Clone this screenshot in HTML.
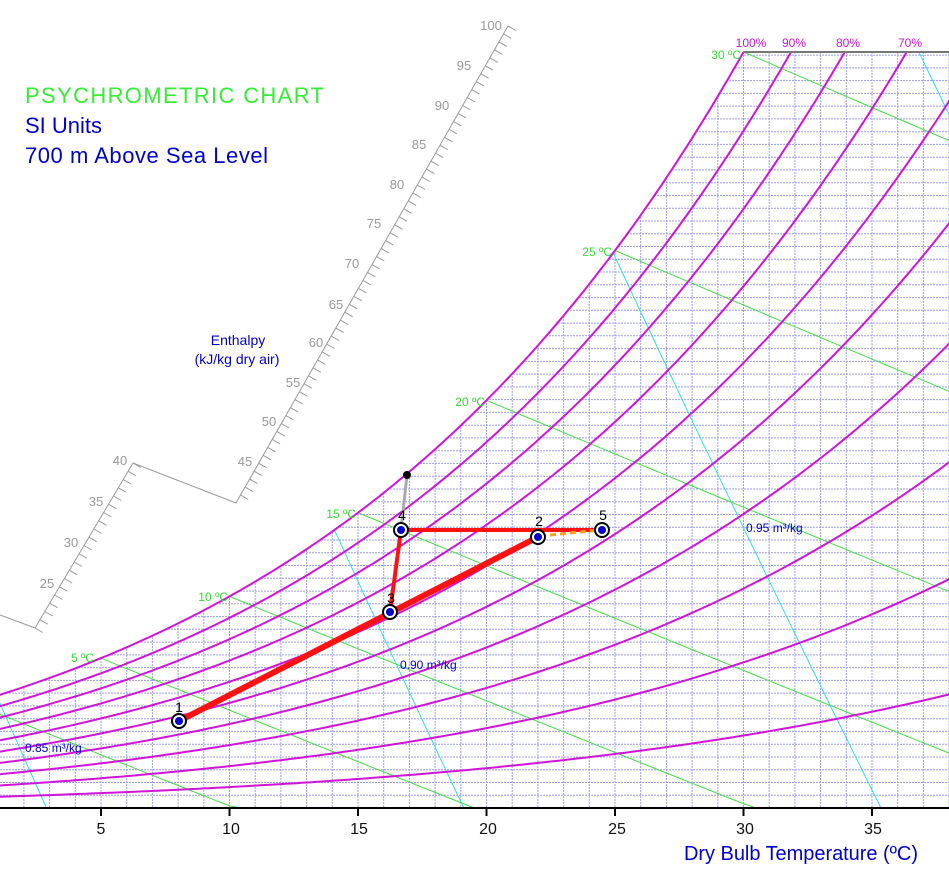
<!DOCTYPE html>
<html><head><meta charset="utf-8"><style>
html,body{margin:0;padding:0;background:#fff;}
svg{display:block;font-family:"Liberation Sans",Arial,sans-serif;}
</style></head><body>
<svg id="s" width="949" height="875" viewBox="0 0 949 875" xmlns="http://www.w3.org/2000/svg">
<defs>
<clipPath id="chart"><rect x="0" y="52" width="949" height="756"/></clipPath>
<clipPath id="sat"><path id="satclip" d=""/></clipPath>
</defs>
<g id="grid" clip-path="url(#sat)" stroke="#9c9cf0" stroke-width="1" stroke-dasharray="2,1"></g>
<g id="vol" clip-path="url(#sat)" stroke="#33dde8" stroke-width="1" fill="none"></g>
<g id="wb" clip-path="url(#chart)" stroke="#44dd44" stroke-width="1" fill="none"></g>
<g id="rh" clip-path="url(#chart)" stroke="#d014d8" stroke-width="2" fill="none"></g>
<line x1="743" y1="52" x2="949" y2="52" stroke="#777" stroke-width="2"/>
<g id="enth" stroke="#999" stroke-width="1" fill="none"></g>
<g id="axis" stroke="#000" stroke-width="2"></g>

<g font-size="12" fill="#d014d8" text-anchor="middle">
<text x="751" y="47">100%</text><text x="794" y="47">90%</text><text x="848" y="47">80%</text><text x="910" y="47">70%</text>
</g>
<g font-size="12" fill="#33dd33" text-anchor="end">
<text x="741" y="59">30 ºC</text><text x="612" y="256">25 ºC</text><text x="485" y="406">20 ºC</text>
<text x="356" y="518">15 ºC</text><text x="228" y="601">10 ºC</text><text x="94" y="662">5 ºC</text>
</g>
<g font-size="12" fill="#0000cc">
<text x="25" y="752">0.85 m³/kg</text><text x="400" y="669">0.90 m³/kg</text><text x="746" y="532">0.95 m³/kg</text>
</g>
<g font-size="13" fill="#999" text-anchor="middle" id="enthlabels">
<text x="47" y="588">25</text><text x="71" y="547">30</text><text x="96" y="506">35</text><text x="120" y="465">40</text>
<text x="245" y="466">45</text><text x="269" y="426">50</text><text x="293" y="387">55</text><text x="316" y="347">60</text>
<text x="336" y="309">65</text><text x="352" y="268">70</text><text x="374" y="228">75</text><text x="397" y="189">80</text>
<text x="419" y="149">85</text><text x="442" y="110">90</text><text x="464" y="70">95</text><text x="491" y="30">100</text>
</g>
<g font-size="14" fill="#0000cc" text-anchor="middle">
<text x="238" y="345">Enthalpy</text><text x="237" y="364">(kJ/kg dry air)</text>
</g>
<text x="25" y="103" font-size="22" fill="#33ee33" textLength="299">PSYCHROMETRIC CHART</text>
<text x="25" y="133" font-size="22" fill="#0000cc">SI Units</text>
<text x="25" y="163" font-size="22" fill="#0000cc" textLength="243">700 m Above Sea Level</text>

<g font-size="16" fill="#111" text-anchor="middle">
<text x="101" y="834">5</text><text x="231" y="834">10</text><text x="359" y="834">15</text><text x="488" y="834">20</text>
<text x="617" y="834">25</text><text x="745" y="834">30</text><text x="873" y="834">35</text>
</g>
<text x="918" y="860" font-size="20" fill="#0000cc" text-anchor="end" textLength="234">Dry Bulb Temperature (ºC)</text>

<!-- process -->
<line x1="401" y1="530" x2="407" y2="475" stroke="#aaa" stroke-width="3"/>
<circle cx="407" cy="475" r="4" fill="#000"/>
<line x1="179" y1="721" x2="538" y2="537" stroke="#ff1111" stroke-width="6"/>
<line x1="390" y1="612" x2="401" y2="530" stroke="#ff1111" stroke-width="4"/>
<line x1="401" y1="530" x2="600" y2="530" stroke="#ff1111" stroke-width="4"/>
<line x1="540" y1="536" x2="600" y2="530" stroke="#ffa020" stroke-width="3" stroke-dasharray="6,4"/>
<g fill="#fff" stroke="#000" stroke-width="2">
<circle cx="179" cy="721" r="7"/><circle cx="538" cy="537" r="7"/><circle cx="390" cy="612" r="7"/><circle cx="401" cy="530" r="7"/><circle cx="602" cy="530" r="7"/>
</g>
<g fill="#0000cc">
<circle cx="179" cy="721" r="4"/><circle cx="538" cy="537" r="4"/><circle cx="390" cy="612" r="4"/><circle cx="401" cy="530" r="4"/><circle cx="602" cy="530" r="4"/>
</g>
<g font-size="14" fill="#000" text-anchor="middle">
<text x="179" y="712">1</text><text x="539" y="526">2</text><text x="391" y="603">3</text><text x="402" y="520">4</text><text x="603" y="520">5</text>
</g>
</svg>
<script>
(function(){
var NS="http://www.w3.org/2000/svg";
var P=93.2;
function pws(T){return 0.61094*Math.exp(17.625*T/(T+243.04));}
function Wr(T,phi){var p=phi*pws(T);return 0.622*p/(P-p);}
var Ky=(808-52)/Wr(30,1);
function X(T){return 101+(T-5)*25.7;}
function Y(W){return 808-W*Ky;}
function el(tag,attrs,parent){var e=document.createElementNS(NS,tag);for(var k in attrs)e.setAttribute(k,attrs[k]);parent.appendChild(e);return e;}
function f(n){return n.toFixed(1);}
var d="M"+f(X(-2))+",808";
for(var T=-2;T<=30.001;T+=0.2){d+=" L"+f(X(T))+","+f(Y(Wr(T,1)));}
d+=" L"+f(X(30))+",52 L949,52 L949,808 Z";
document.getElementById("satclip").setAttribute("d",d);
var g=document.getElementById("grid");
for(var t=1;t<=38;t++){var x=X(t);el("line",{x1:f(x),y1:52,x2:f(x),y2:808},g);}
for(var w=0.0005;w<0.0297;w+=0.0005){var y=Y(w);el("line",{x1:0,y1:f(y),x2:949,y2:f(y)},g);}
var rh=document.getElementById("rh");
for(var i=1;i<=10;i++){var phi=i/10;var s="";
 for(var T=-2;T<=40.001;T+=0.2){var W=Wr(T,phi);var yy=Y(W);s+=(s?" L":"M")+f(X(T))+","+f(yy);if(yy<40)break;}
 el("path",{d:s},rh);}
var wb=document.getElementById("wb");
for(var tw=0;tw<=30;tw+=5){var Ws=Wr(tw,1);var s="";
 for(var T=tw;T<=60;T+=0.5){var W=((2501-2.326*tw)*Ws-1.006*(T-tw))/(2501+1.86*T-4.186*tw);
  if(W<0){W=0;}
  s+=(s?" L":"M")+f(X(T))+","+f(Y(W));if(W<=0)break;}
 el("path",{d:s},wb);}
var vol=document.getElementById("vol");
[0.85,0.90,0.95,1.00].forEach(function(v){var s="";
 for(var W=0;W<=0.031;W+=0.001){var TK=v*P/(0.287*(1+1.6078*W));s+=(s?" L":"M")+f(X(TK-273.15))+","+f(Y(W));}
 el("path",{d:s},vol);});
var en=document.getElementById("enth");
el("polyline",{points:"0,615 35,628 133,463 236,503 508,26"},en);
var px=0.868,py=0.496,L=9;
for(var v=20;v<=40;v++){var x=133-(40-v)*4.9,y=463+(40-v)*8.25;el("line",{x1:f(x),y1:f(y),x2:f(x+px*L),y2:f(y+py*L)},en);}
for(var v=41;v<=100;v++){var x=236+(v-40)*4.533,y=503-(v-40)*7.95;el("line",{x1:f(x),y1:f(y),x2:f(x+px*L),y2:f(y+py*L)},en);}
var ax=document.getElementById("axis");
el("line",{x1:0,y1:808,x2:949,y2:808},ax);
for(var t=5;t<=35;t+=5){el("line",{x1:f(X(t)),y1:808,x2:f(X(t)),y2:816},ax);}
})();
</script>
</body></html>
